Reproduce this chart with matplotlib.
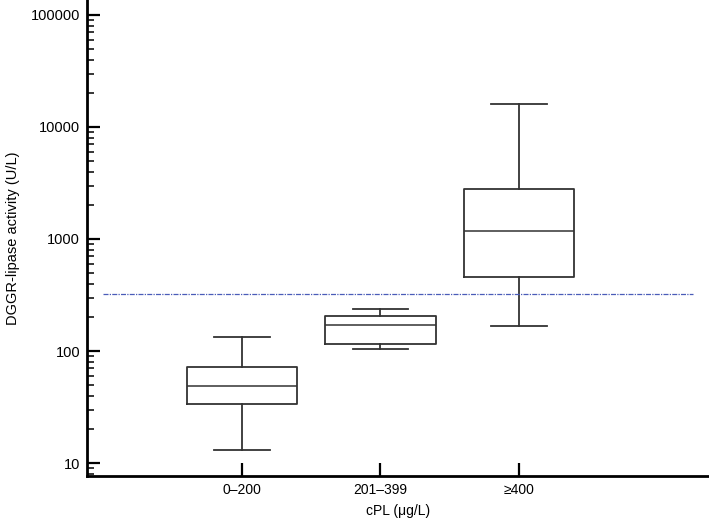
import matplotlib.pyplot as plt
import matplotlib.ticker as mticker

plt.rcParams['font.family'] = ['Liberation Sans', 'DejaVu Sans']

groups = ["0\u2013200", "201\u2013399", "\u2265400"]
whislo = [13.1, 104, 167]
q1 = [33.6, 115, 458]
med = [48.7, 171, 1178]
q3 = [72, 205, 2790]
whishi = [133, 237, 16000]
cutoff = 324

stats = []
for i, g in enumerate(groups):
    stats.append(dict(label=g, whislo=whislo[i], q1=q1[i], med=med[i],
                      q3=q3[i], whishi=whishi[i], fliers=[]))

fig = plt.figure(figsize=(7.09, 5.24), dpi=100)
ax = fig.add_axes([87 / 709, 1 - 476 / 524, 622 / 709, 476 / 524])

lc = '#333333'
ax.bxp(stats, positions=[1, 2, 3], widths=0.8, showfliers=False,
       boxprops=dict(color=lc, linewidth=1.3),
       whiskerprops=dict(color=lc, linewidth=1.3),
       capprops=dict(color=lc, linewidth=1.3),
       medianprops=dict(color=lc, linewidth=1.1),
       capwidths=0.4)

# cutoff line
ax.plot([0, 4.26], [cutoff, cutoff], color='#4a5cb8', linewidth=0.9,
        linestyle=(0, (4, 1, 1, 1)))

ax.set_yscale('log')
ax.set_ylim(7.66, 136000)
ax.set_xlim(-0.119, 4.372)
ax.yaxis.set_major_locator(mticker.LogLocator(base=10))
ax.yaxis.set_major_formatter(mticker.FuncFormatter(lambda v, p: '%d' % round(v)))
ax.yaxis.set_minor_locator(mticker.LogLocator(base=10, subs=range(2, 10)))
ax.yaxis.set_minor_formatter(mticker.NullFormatter())

ax.set_xticks([1, 2, 3])
ax.set_xticklabels(groups)

for s in ['top', 'right']:
    ax.spines[s].set_visible(False)
for s in ['left', 'bottom']:
    ax.spines[s].set_linewidth(2)

ax.tick_params(axis='both', which='major', direction='in', length=9.5,
               width=1.6, labelsize=10, pad=5)
ax.tick_params(axis='y', which='minor', direction='in', length=5, width=1.1)
ax.tick_params(axis='y', which='major', labelsize=10.5)

ax.set_xlabel('cPL (\u03bcg/L)', fontsize=10, labelpad=5)
ax.set_ylabel('DGGR-lipase activity (U/L)', fontsize=10.5, labelpad=8)

fig.savefig('out.png', dpi=100)
